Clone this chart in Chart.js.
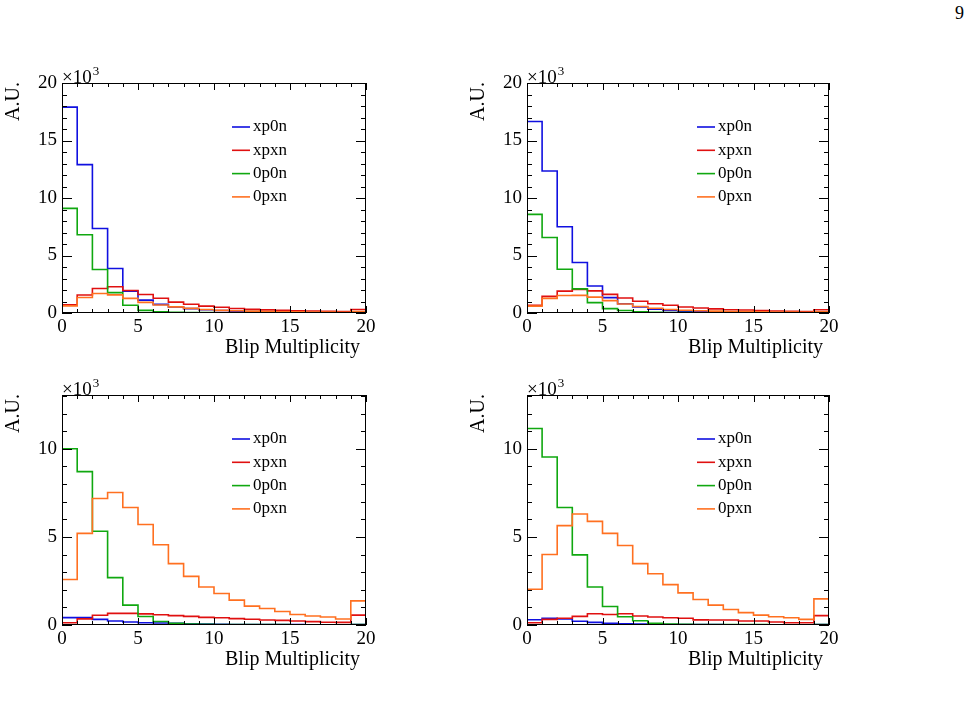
<!DOCTYPE html>
<html>
<head>
<meta charset="utf-8">
<script src="https://cdn.jsdelivr.net/npm/chart.js@4.4.1/dist/chart.umd.min.js"></script>
<style>
  body { margin: 0; background: #fff; }
  #page { position: relative; width: 974px; height: 702px; }
  canvas { position: absolute; }
  #pagenum { position: absolute; left: 955px; top: 3px; font: 18px "Liberation Serif", serif; }
</style>
</head>
<body>
<div id="page">
  <div id="pagenum">9</div>
  <canvas id="c1" width="460" height="370" style="left:0;top:0"></canvas>
  <canvas id="c2" width="514" height="370" style="left:460px;top:0"></canvas>
  <canvas id="c3" width="460" height="351" style="left:0;top:351px"></canvas>
  <canvas id="c4" width="514" height="351" style="left:460px;top:351px"></canvas>
</div>
<script>
// bin edges of the blip multiplicity histograms
const binEdges = [0, 1, 2, 3, 4, 5, 6, 7, 8, 9, 10, 11, 12, 13, 14, 15, 16, 17, 18, 19, 20]
const seriesNames = ["xp0n", "xpxn", "0p0n", "0pxn"]
const xTicks = [0, 5, 10, 15, 20]
const yTicksTop = [0, 5, 10, 15, 20]
const yTicksBottom = [0, 5, 10]

// values in units of 10^3, one per bin
// top left
const tl_xp0n = [17.9, 12.9, 7.35, 3.87, 1.9, 1.12, 0.75, 0.52, 0.38, 0.28, 0.22, 0.16, 0.12, 0.1, 0.08, 0.06, 0.05, 0.04, 0.04, 0.05]
const tl_xpxn = [0.72, 1.57, 2.13, 2.28, 1.96, 1.61, 1.28, 0.95, 0.76, 0.6, 0.5, 0.39, 0.32, 0.27, 0.23, 0.2, 0.17, 0.15, 0.12, 0.3]
const tl_0p0n = [9.1, 6.8, 3.78, 1.77, 0.67, 0.23, 0.1, 0.06, 0.04, 0.03, 0.02, 0.02, 0.01, 0.01, 0.01, 0.01, 0.01, 0.01, 0.01, 0.02]
const tl_0pxn = [0.62, 1.35, 1.7, 1.58, 1.27, 0.92, 0.7, 0.53, 0.4, 0.31, 0.23, 0.19, 0.16, 0.13, 0.11, 0.1, 0.09, 0.08, 0.07, 0.12]
// top right
const tr_xp0n = [16.65, 12.35, 7.5, 4.39, 2.35, 1.34, 0.81, 0.52, 0.33, 0.22, 0.16, 0.12, 0.09, 0.07, 0.06, 0.05, 0.04, 0.03, 0.03, 0.06]
const tr_xpxn = [0.68, 1.45, 1.9, 2.05, 1.92, 1.62, 1.3, 1.02, 0.81, 0.68, 0.52, 0.43, 0.36, 0.28, 0.26, 0.21, 0.18, 0.14, 0.12, 0.28]
const tr_0p0n = [8.58, 6.57, 3.81, 2.1, 0.9, 0.38, 0.22, 0.1, 0.06, 0.04, 0.03, 0.02, 0.02, 0.01, 0.01, 0.01, 0.01, 0.01, 0.01, 0.02]
const tr_0pxn = [0.6, 1.27, 1.52, 1.53, 1.38, 1.08, 0.78, 0.57, 0.41, 0.3, 0.24, 0.19, 0.16, 0.13, 0.12, 0.1, 0.09, 0.08, 0.07, 0.1]
// bottom left
const bl_xp0n = [0.42, 0.42, 0.32, 0.23, 0.17, 0.13, 0.11, 0.09, 0.07, 0.05, 0.04, 0.03, 0.03, 0.02, 0.02, 0.02, 0.01, 0.01, 0.01, 0.02]
const bl_xpxn = [0.13, 0.35, 0.55, 0.66, 0.66, 0.63, 0.58, 0.53, 0.49, 0.43, 0.41, 0.36, 0.33, 0.28, 0.26, 0.23, 0.19, 0.16, 0.15, 0.56]
const bl_0p0n = [10.0, 8.7, 5.32, 2.69, 1.13, 0.48, 0.2, 0.1, 0.06, 0.04, 0.03, 0.03, 0.02, 0.02, 0.02, 0.01, 0.01, 0.01, 0.01, 0.03]
const bl_0pxn = [2.58, 5.2, 7.18, 7.52, 6.67, 5.7, 4.55, 3.48, 2.76, 2.16, 1.79, 1.41, 1.07, 0.94, 0.77, 0.6, 0.51, 0.45, 0.34, 1.37]
// bottom right
const br_xp0n = [0.3, 0.38, 0.34, 0.21, 0.15, 0.09, 0.07, 0.05, 0.04, 0.03, 0.02, 0.02, 0.02, 0.01, 0.01, 0.01, 0.01, 0.01, 0.01, 0.02]
const br_xpxn = [0.13, 0.32, 0.38, 0.49, 0.64, 0.6, 0.64, 0.51, 0.45, 0.41, 0.38, 0.29, 0.28, 0.28, 0.23, 0.23, 0.17, 0.13, 0.13, 0.53]
const br_0p0n = [11.15, 9.53, 6.67, 3.98, 2.16, 1.05, 0.47, 0.24, 0.1, 0.05, 0.04, 0.03, 0.03, 0.02, 0.02, 0.02, 0.01, 0.01, 0.01, 0.03]
const br_0pxn = [2.03, 4.0, 5.64, 6.3, 5.88, 5.2, 4.51, 3.48, 2.91, 2.29, 1.82, 1.45, 1.13, 0.88, 0.7, 0.56, 0.47, 0.41, 0.32, 1.48]

const colors = ["#1010e0", "#e01010", "#10a810", "#ff7020"]
const serif = '"Liberation Serif", "Times New Roman", serif'

// step outline: each bin value sits on its left edge, line steps "before" the next edge
function histPoints(values) {
    const pts = [{x: binEdges[0], y: 0}]
    values.forEach((v, i) => pts.push({x: binEdges[i], y: v}))
    pts.push({x: binEdges[binEdges.length - 1], y: 0})
    return pts
}

// ROOT style frame, inward ticks, labels and legend
const rootFrame = {
    id: "rootFrame",
    afterDatasetsDraw(chart, args, opts) {
        const ctx = chart.ctx
        const ca = chart.chartArea
        const xs = chart.scales.x
        const ys = chart.scales.y
        ctx.save()
        ctx.strokeStyle = "#000"
        ctx.lineWidth = 1
        ctx.strokeRect(ca.left + 0.5, ca.top + 0.5, ca.right - ca.left - 1, ca.bottom - ca.top - 1)

        ctx.beginPath()
        for (let v = xs.min; v <= xs.max; v++) {
            const px = Math.round(xs.getPixelForValue(v)) + 0.5
            const len = v % 5 === 0 ? 7 : 4
            ctx.moveTo(px, ca.bottom); ctx.lineTo(px, ca.bottom - len)
            ctx.moveTo(px, ca.top); ctx.lineTo(px, ca.top + len)
        }
        for (let v = 0; v <= ys.max; v++) {
            const py = Math.round(ys.getPixelForValue(v)) + 0.5
            const len = v % 5 === 0 ? 10 : 5
            ctx.moveTo(ca.left, py); ctx.lineTo(ca.left + len, py)
            ctx.moveTo(ca.right, py); ctx.lineTo(ca.right - len, py)
        }
        ctx.stroke()

        ctx.fillStyle = "#000"
        ctx.font = "19px " + serif
        ctx.textBaseline = "middle"
        ctx.textAlign = "center"
        xTicks.forEach(t => ctx.fillText(String(t), xs.getPixelForValue(t), ca.bottom + 14))
        ctx.textAlign = "right"
        opts.yTicks.forEach(t => ctx.fillText(String(t), ca.left - 5, ys.getPixelForValue(t)))

        ctx.font = "20px " + serif
        ctx.fillText("Blip Multiplicity", ca.right - 6, ca.bottom + 35)

        // y title, rotated
        ctx.save()
        ctx.translate(ca.left - 48, ca.top - 1)
        ctx.rotate(-Math.PI / 2)
        ctx.textAlign = "right"
        ctx.fillText("A.U.", 0, 0)
        ctx.restore()

        // x10^3 multiplier
        ctx.textAlign = "left"
        ctx.textBaseline = "alphabetic"
        ctx.font = "19px " + serif
        ctx.fillText("\u00d710", ca.left, ca.top)
        const w = ctx.measureText("\u00d710").width
        ctx.font = "13px " + serif
        ctx.fillText("3", ca.left + w + 1, ca.top - 8)

        // legend
        ctx.font = "17px " + serif
        ctx.textBaseline = "middle"
        chart.data.datasets.forEach((ds, i) => {
            const y = ca.top + opts.legendTop + i * 23.3
            ctx.strokeStyle = ds.borderColor
            ctx.lineWidth = 1.6
            ctx.beginPath()
            ctx.moveTo(ca.left + opts.legendX, y)
            ctx.lineTo(ca.left + opts.legendX + 18, y)
            ctx.stroke()
            ctx.fillText(ds.label, ca.left + opts.legendX + 21, y)
        })
        ctx.restore()
    }
}

function makePanel(id, series, yMax, yTicks, pad, legendTop) {
    new Chart(document.getElementById(id), {
        type: "line",
        data: {
            datasets: series.map((vals, i) => ({
                label: seriesNames[i],
                data: histPoints(vals),
                borderColor: colors[i],
                borderWidth: 1.6,
                stepped: "before",
                pointRadius: 0,
                fill: false,
                order: 3 - i
            }))
        },
        options: {
            responsive: false,
            animation: false,
            layout: { padding: pad },
            scales: {
                x: { type: "linear", min: 0, max: 20, display: false },
                y: { min: 0, max: yMax, display: false }
            },
            plugins: {
                legend: { display: false },
                tooltip: { enabled: false },
                rootFrame: { yTicks: yTicks, legendX: 170, legendTop: legendTop }
            }
        },
        plugins: [rootFrame]
    })
}

makePanel("c1", [tl_xp0n, tl_xpxn, tl_0p0n, tl_0pxn], 20, yTicksTop, {left: 62, right: 94, top: 83, bottom: 57}, 44)
makePanel("c2", [tr_xp0n, tr_xpxn, tr_0p0n, tr_0pxn], 20, yTicksTop, {left: 67, right: 145, top: 83, bottom: 57}, 44)
makePanel("c3", [bl_xp0n, bl_xpxn, bl_0p0n, bl_0pxn], 13.05, yTicksBottom, {left: 62, right: 94, top: 44, bottom: 77}, 44)
makePanel("c4", [br_xp0n, br_xpxn, br_0p0n, br_0pxn], 13.05, yTicksBottom, {left: 67, right: 145, top: 44, bottom: 77}, 44)
</script>
</body>
</html>
